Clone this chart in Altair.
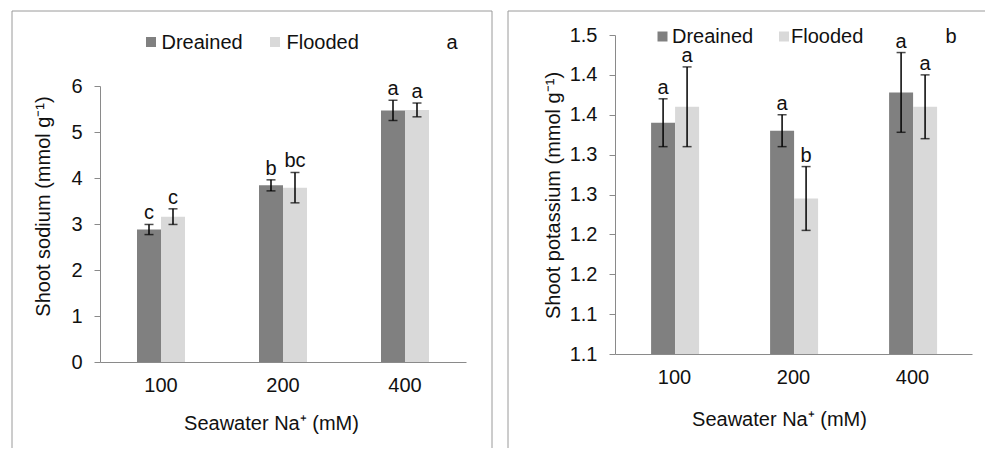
import altair as alt
import pandas as pd

categories = ["100", "200", "400"]
treatments = ["Dreained", "Flooded"]
colors = ["#808080", "#d9d9d9"]

na_drained = [2.88, 3.84, 5.47]
na_drained_err = [0.11, 0.12, 0.22]
na_flooded = [3.16, 3.79, 5.48]
na_flooded_err = [0.17, 0.33, 0.15]
na_letters_drained = ["c", "b", "a"]
na_letters_flooded = ["c", "bc", "a"]
na_ticks = [0, 1, 2, 3, 4, 5, 6]

k_drained = [1.39, 1.38, 1.428]
k_drained_err = [0.03, 0.02, 0.05]
k_flooded = [1.41, 1.295, 1.41]
k_flooded_err = [0.05, 0.04, 0.04]
k_letters_drained = ["a", "a", "a"]
k_letters_flooded = ["a", "b", "a"]
k_ticks = [1.10, 1.15, 1.20, 1.25, 1.30, 1.35, 1.40, 1.45, 1.50]
k_tick_labels = ["1.1", "1.1", "1.2", "1.2", "1.3", "1.3", "1.4", "1.4", "1.5"]

FONT = "Liberation Sans"
FS = 20
TXT = "#111111"
AX = "#8a8a8a"
BORDER = "#9a9a9a"


def frame(dm, de, fm, fe, dl, fl):
    rows = []
    for i, c in enumerate(categories):
        for t, m, e, l in ((treatments[0], dm[i], de[i], dl[i]),
                           (treatments[1], fm[i], fe[i], fl[i])):
            rows.append(dict(cat=c, treatment=t, mean=m, lo=m - e, hi=m + e, letter=l))
    return pd.DataFrame(rows)


na_df = frame(na_drained, na_drained_err, na_flooded, na_flooded_err,
              na_letters_drained, na_letters_flooded)
k_df = frame(k_drained, k_drained_err, k_flooded, k_flooded_err,
             k_letters_drained, k_letters_flooded)

one = alt.Data(values=[{"k": 1}])


def panel(df, width, height, yscale, yaxis, xtitle, xtitle_x, xtitle_y,
          legend_pos, tag, tag_pos, border_rules, base_y2=None):
    xscale = alt.Scale(domain=categories, paddingInner=0.6066, paddingOuter=0.3033)
    xaxis = alt.Axis(title=xtitle, labelAngle=0, ticks=False, tickSize=0,
                     domainColor=AX, domainWidth=1, labelPadding=13,
                     labelFont=FONT, labelFontSize=FS, labelColor=TXT,
                     titleFont=FONT, titleFontSize=FS, titleColor=TXT,
                     titleFontWeight="normal", titleX=xtitle_x, titleY=xtitle_y,
                     titleBaseline="alphabetic", titleAlign="center")
    X = alt.X("cat:N", scale=xscale, axis=xaxis)
    XO = alt.XOffset("treatment:N", scale=alt.Scale(domain=treatments, paddingInner=0, paddingOuter=0))
    base = alt.Chart(df)

    enc = dict(x=X, xOffset=XO,
               y=alt.Y("mean:Q", scale=yscale, axis=yaxis),
               color=alt.Color("treatment:N", scale=alt.Scale(domain=treatments, range=colors), legend=None))
    if base_y2 is not None:
        enc["y2"] = alt.datum(base_y2)
    bars = base.mark_bar(opacity=1).encode(**enc)

    err = base.mark_rule(color="#000000", strokeWidth=1.5).encode(
        x=X, xOffset=XO,
        y=alt.Y("lo:Q", scale=yscale, axis=yaxis), y2="hi:Q")
    cap_lo = base.mark_tick(color="#000000", size=9, thickness=1.5).encode(
        x=X, xOffset=XO, y=alt.Y("lo:Q", scale=yscale, axis=yaxis))
    cap_hi = base.mark_tick(color="#000000", size=9, thickness=1.5).encode(
        x=X, xOffset=XO, y=alt.Y("hi:Q", scale=yscale, axis=yaxis))
    letters = base.mark_text(font=FONT, fontSize=FS, color=TXT, baseline="alphabetic",
                             align="center", dy=-5).encode(
        x=X, xOffset=XO, y=alt.Y("hi:Q", scale=yscale, axis=yaxis), text="letter:N")

    layers = [bars, err, cap_lo, cap_hi, letters]

    for t, c, (sx, sy, tx, ty) in zip(treatments, colors, legend_pos):
        layers.append(alt.Chart(one).mark_square(size=100, color=c, opacity=1).encode(
            x=alt.value(sx), y=alt.value(sy)))
        layers.append(alt.Chart(one).mark_text(text=t, font=FONT, fontSize=FS, color=TXT,
                                               align="left", baseline="alphabetic").encode(
            x=alt.value(tx), y=alt.value(ty)))
    layers.append(alt.Chart(one).mark_text(text=tag, font=FONT, fontSize=FS, color=TXT,
                                           align="center", baseline="alphabetic").encode(
        x=alt.value(tag_pos[0]), y=alt.value(tag_pos[1])))
    for (x1, y1, x2, y2) in border_rules:
        layers.append(alt.Chart(one).mark_rule(color=BORDER, strokeWidth=1).encode(
            x=alt.value(x1), y=alt.value(y1), x2=alt.value(x2), y2=alt.value(y2)))

    return alt.layer(*layers).properties(width=width, height=height)


left_yaxis = alt.Axis(title="Shoot sodium (mmol g⁻¹)", values=na_ticks, format="d",
                      grid=False, tickSize=6, tickColor=AX, domainColor=AX, domainWidth=1,
                      labelPadding=12, labelFont=FONT, labelFontSize=FS, labelColor=TXT,
                      titleFont=FONT, titleFontSize=FS, titleColor=TXT, titleFontWeight="normal",
                      titleAngle=270, titleX=-57, titleY=171, titleBaseline="middle",
                      titleAlign="center")
left = panel(
    na_df, 366, 327,
    alt.Scale(domain=[0, 6], range=[327, 51], nice=False, zero=True),
    left_yaxis, "Seawater Na⁺ (mM)", 171, 67,
    [(51, 7, 61.5, 13.5), (175, 7, 186.5, 13.5)],
    "a", (352, 13.5),
    [(-88, -24, -88, 413), (-88, -24, 392, -24), (392, -24, 392, 413)],
)

label_expr = "[" + ",".join("'%s'" % s for s in k_tick_labels) + "][round((datum.value - 1.1) / 0.05)]"
right_yaxis = alt.Axis(title="Shoot potassium (mmol g⁻¹)", values=k_ticks, labelExpr=label_expr,
                       grid=False, tickSize=6, tickColor=AX, domainColor=AX, domainWidth=1,
                       labelPadding=12, labelFont=FONT, labelFontSize=FS, labelColor=TXT,
                       titleFont=FONT, titleFontSize=FS, titleColor=TXT, titleFontWeight="normal",
                       titleAngle=270, titleX=-62, titleY=160, titleBaseline="middle",
                       titleAlign="center")
right = panel(
    k_df, 357, 319,
    alt.Scale(domain=[1.1, 1.5], nice=False, zero=False),
    right_yaxis, "Seawater Na⁺ (mM)", 164, 71,
    [(47.5, 1.5, 57, 7.7), (169, 1.5, 176, 7.7)],
    "b", (336, 7.7),
    [(-107, -24, -107, 413), (-107, -24, 370, -24)],
    base_y2=1.1,
)

chart = alt.hconcat(left, right, spacing=14).properties(
    padding={"left": 11, "top": 10, "right": 0, "bottom": 0}
).configure_view(stroke=None)

chart.save("out.html", embed_options={"renderer": "svg", "actions": False})
